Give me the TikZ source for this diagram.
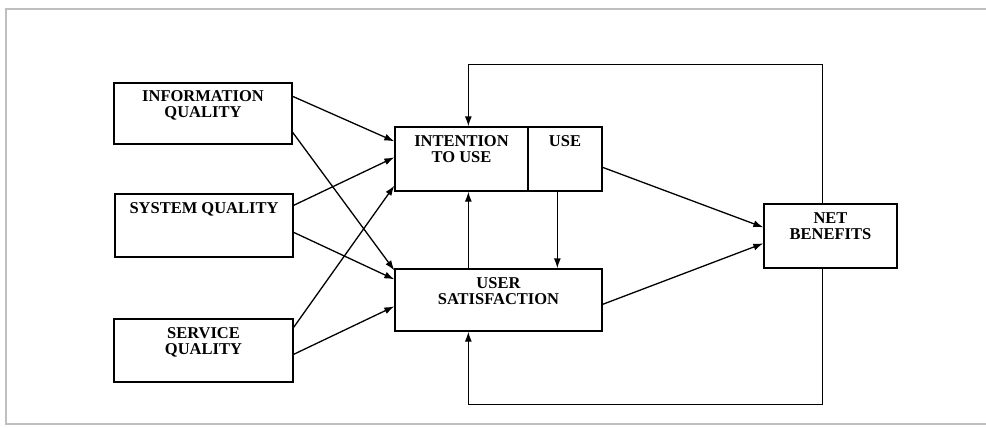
\documentclass[tikz,border=0pt]{standalone}
\usepackage{fontspec}
\setmainfont{Liberation Serif}
\usetikzlibrary{arrows.meta,calc}
\tikzset{
  box/.style={draw, line width=1.3pt, inner sep=0pt, anchor=center},
  lbl/.style={anchor=north, inner sep=0pt, align=center, font=\fontsize{16.5}{16}\selectfont\bfseries},
  arr/.style={line width=1.3pt, -{Latex[length=10pt,width=7pt]}},
  frame/.style={draw=black!25, line width=1.6pt}
}
\begin{document}
\begin{tikzpicture}[x=1pt,y=-1pt]
\useasboundingbox (0,0) rectangle (986,428);
% frame
\draw[frame] (986,9) -- (6,9) -- (6,424) -- (986,424);
% boxes
\node[box, minimum width=178pt, minimum height=61pt] (iq) at (203,113.5) {};
\node[box, minimum width=178pt, minimum height=63pt] (sq) at (204,225.5) {};
\node[box, minimum width=179pt, minimum height=63pt] (svq) at (203.5,350.5) {};
\node[box, minimum width=133pt, minimum height=64pt] (itu) at (461.5,159) {};
\node[box, minimum width=74pt, minimum height=64pt] (use) at (565,159) {};
\node[box, minimum width=207pt, minimum height=62pt] (us) at (498.5,300) {};
\node[box, minimum width=133pt, minimum height=64pt] (nb) at (830.5,236) {};
% labels
\node[lbl] (tiq) at ($(iq.north)+(0,8)$) {INFORMATION\\QUALITY};
\node[lbl] (tsq) at ($(sq.north)+(0,9)$) {SYSTEM QUALITY};
\node[lbl] (tsvq) at ($(svq.north)+(0,9)$) {SERVICE\\QUALITY};
\node[lbl] (titu) at ($(itu.north)+(0,9)$) {INTENTION\\TO USE};
\node[lbl] (tuse) at ($(use.north)+(0,9)$) {USE};
\node[lbl] (tus) at ($(us.north)+(0,9)$) {USER\\SATISFACTION};
\node[lbl] (tnb) at ($(nb.north)+(0,9)$) {NET\\BENEFITS};
% arrows from quality boxes
\draw[arr] ($(iq.north east)+(0,14)$) -- ($(itu.north west)+(0,15)$);
\draw[arr] ($(iq.north east)+(0,50)$) -- ($(us.north west)+(0,2)$);
\draw[arr] ($(sq.north east)+(0,12)$) -- ($(itu.north west)+(0,31)$);
\draw[arr] ($(sq.north east)+(0,39)$) -- ($(us.north west)+(0,11)$);
\draw[arr] ($(svq.north east)+(0,9)$) -- ($(itu.south west)+(0,-6)$);
\draw[arr] ($(svq.north east)+(0,36)$) -- ($(us.north west)+(0,38)$);
% between middle boxes
\draw[arr] ($(us.north west)+(74,0)$) -- ($(itu.south west)+(74,0)$);
\draw[arr] ($(use.south west)+(30,0)$) -- ($(us.north west)+(163,0)$);
% to net benefits
\draw[arr] ($(use.north east)+(0,41)$) -- ($(nb.north west)+(0,24)$);
\draw[arr] ($(us.north east)+(0,36)$) -- ($(nb.north west)+(0,40)$);
% feedback loops
\draw[arr] ($(nb.north west)+(59,0)$) |- ($(itu.north west)+(74,-62)$) -- ($(itu.north west)+(74,0)$);
\draw[arr] ($(nb.south west)+(59,0)$) |- ($(us.south west)+(74,73)$) -- ($(us.south west)+(74,0)$);
\end{tikzpicture}
\end{document}
